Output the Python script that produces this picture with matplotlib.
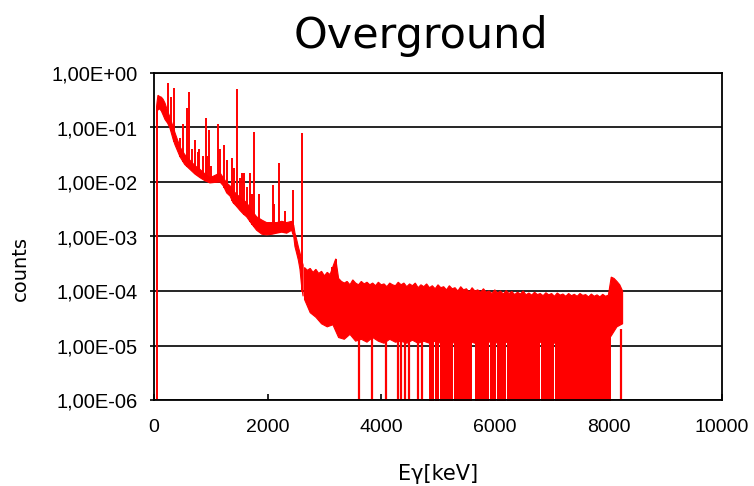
import numpy as np
import matplotlib
matplotlib.use("Agg")
import matplotlib.pyplot as plt
from matplotlib.ticker import FixedLocator, FuncFormatter, NullLocator

# ---------------- data ----------------
# low-energy continuum band (keV, counts)
low_E = [45, 55, 70, 100, 130, 160, 194, 240, 280, 340, 370, 458, 540, 634,
         720, 810, 900, 986, 1060, 1162, 1220, 1280, 1340, 1390, 1450, 1514,
         1570, 1630, 1720, 1807, 1900, 1983, 2080, 2160, 2250, 2336, 2424,
         2460, 2482, 2510, 2541, 2570, 2600, 2625]
low_upper = [0.24, 0.30, 0.39, 0.37, 0.36, 0.33, 0.28, 0.20, 0.155, 0.10,
             0.08, 0.044, 0.032, 0.025, 0.020, 0.017, 0.014, 0.012, 0.013,
             0.0147, 0.012, 0.0096, 0.0085, 0.0071, 0.0060, 0.0053, 0.0047,
             0.0042, 0.0030, 0.0023, 0.0020, 0.0018, 0.0018, 0.0018, 0.0019,
             0.0018, 0.0019, 0.0016, 0.00115, 0.0009, 0.00065, 0.0005,
             0.00037, 0.0003]
low_lower = [0.12, 0.20, 0.21, 0.22, 0.20, 0.17, 0.14, 0.12, 0.098, 0.059,
             0.048, 0.029, 0.021, 0.017, 0.014, 0.012, 0.0105, 0.0096,
             0.0098, 0.010, 0.0085, 0.0063, 0.0055, 0.0042, 0.0036, 0.0030,
             0.0026, 0.0023, 0.0017, 0.0013, 0.0011, 0.00107, 0.0011,
             0.00115, 0.0012, 0.00115, 0.0013, 0.0010, 0.00065, 0.0005,
             0.00037, 0.00025, 0.00012, 0.00008]

# gamma lines (keV, peak counts)
peak_E = [238, 295, 352, 463, 511, 583, 609, 665, 727, 768, 794, 860, 911,
          934, 969, 1001, 1120, 1155, 1238, 1281, 1377, 1408, 1460, 1509,
          1543, 1588, 1630, 1690, 1730, 1764, 1847, 2100, 2118, 2204, 2306,
          2448, 2614, 3130, 3200]
peak_h = [0.65, 0.36, 0.52, 0.064, 0.118, 0.23, 0.45, 0.04, 0.06, 0.035,
          0.04, 0.03, 0.15, 0.03, 0.09, 0.02, 0.116, 0.04, 0.048, 0.025,
          0.028, 0.018, 0.51, 0.012, 0.0147, 0.0147, 0.008, 0.0145, 0.006,
          0.083, 0.006, 0.0088, 0.004, 0.022, 0.0029, 0.0071, 0.079,
          2.8e-4, 3.8e-4]

# high-energy noisy band: upper edge every 50 keV from 2650 keV
hi_up_start, hi_up_step = 2650, 50
hi_upper = [2.7e-4, 2.4e-4, 2.6e-4, 2.2e-4, 2.5e-4, 2.1e-4, 2.3e-4, 1.9e-4,
            2.2e-4, 2.0e-4, 2.8e-4, 3.9e-4, 1.7e-4, 1.5e-4, 1.4e-4, 1.5e-4,
            1.3e-4, 1.6e-4, 1.4e-4, 1.3e-4, 1.5e-4, 1.35e-4, 1.45e-4, 1.3e-4,
            1.4e-4, 1.25e-4, 1.45e-4, 1.3e-4, 1.35e-4, 1.2e-4, 1.4e-4, 1.3e-4,
            1.25e-4, 1.45e-4, 1.3e-4, 1.4e-4, 1.2e-4, 1.35e-4, 1.25e-4, 1.4e-4,
            1.15e-4, 1.3e-4, 1.2e-4, 1.35e-4, 1.15e-4, 1.25e-4, 1.1e-4, 1.3e-4,
            1.15e-4, 1.2e-4, 1.05e-4, 1.25e-4, 1.1e-4, 1.15e-4, 1.0e-4, 1.2e-4,
            1.05e-4, 1.1e-4, 0.95e-4, 1.15e-4, 1.0e-4, 1.05e-4, 0.95e-4, 1.1e-4,
            0.95e-4, 1.0e-4, 0.9e-4, 1.05e-4, 0.92e-4, 1.0e-4, 0.88e-4, 1.02e-4,
            0.9e-4, 0.98e-4, 0.86e-4, 0.95e-4, 0.88e-4, 1.0e-4, 0.85e-4, 0.92e-4,
            0.84e-4, 0.95e-4, 0.86e-4, 0.9e-4, 0.82e-4, 0.93e-4, 0.85e-4, 0.9e-4,
            0.8e-4, 0.92e-4, 0.84e-4, 0.88e-4, 0.8e-4, 0.9e-4, 0.82e-4, 0.87e-4,
            0.8e-4, 0.9e-4, 0.83e-4, 0.86e-4, 0.78e-4, 0.88e-4, 0.8e-4, 0.85e-4,
            0.78e-4, 0.87e-4, 0.8e-4, 0.84e-4, 1.8e-4, 1.7e-4, 1.5e-4, 1.3e-4,
            1.0e-4]
# lower edge every 100 keV from 2650 keV
hi_lo_start, hi_lo_step = 2650, 100
hi_lower = [7e-5, 4e-5, 3.3e-5, 2.5e-5, 2.2e-5, 2.4e-5, 1.4e-5, 1.3e-5,
            1.6e-5, 1.2e-5, 1.3e-5, 1.15e-5, 1.4e-5, 1.2e-5, 1.1e-5, 1.3e-5,
            1.15e-5, 1.2e-5, 1.1e-5, 1.25e-5, 1.1e-5, 1.2e-5, 1.1e-5, 1.2e-5,
            1.1e-5, 1.25e-5, 1.1e-5, 1.2e-5, 1.1e-5, 1.2e-5, 1.1e-5, 1.2e-5,
            1.1e-5, 1.2e-5, 1.1e-5, 1.2e-5, 1.1e-5, 1.2e-5, 1.1e-5, 1.2e-5,
            1.1e-5, 1.2e-5, 1.1e-5, 1.2e-5, 1.1e-5, 1.2e-5, 1.1e-5, 1.2e-5,
            1.1e-5, 1.2e-5, 1.1e-5, 1.2e-5, 1.1e-5, 1.1e-5, 1.5e-5, 2.2e-5,
            2.5e-5]

# zero-count bins (drawn down to the axis floor)
drop_E = [3610, 3840, 4085, 4290, 4355, 4420, 4492, 4654, 4727, 8225]
drop_spans = [(4848, 4928), (4945, 5016), (5030, 5262), (5280, 5603),
              (5648, 5838), (5852, 5896), (5912, 6026), (6042, 6190),
              (6206, 6488), (6505, 6792), (6810, 7043), (7060, 8050)]
start_E, start_h = 45, 0.2

yticks = [1e-6, 1e-5, 1e-4, 1e-3, 1e-2, 1e-1, 1e0]
xticks = [0, 2000, 4000, 6000, 8000, 10000]

# ---------------- figure ----------------
fig = plt.figure(figsize=(7.54, 4.86), dpi=100)
ax = fig.add_axes([154 / 754, 86 / 486, 568 / 754, 327 / 486])
ax.set_yscale('log')
ax.set_xlim(0, 10000)
ax.set_ylim(1e-6, 1)

RED = '#ff0000'
floor = 1e-7

# low-energy band
ax.fill(low_E + low_E[::-1], low_upper + low_lower[::-1],
        facecolor=RED, edgecolor=RED, lw=0.8, zorder=3)

# high-energy band
hu_E = [hi_up_start + i * hi_up_step for i in range(len(hi_upper))]
hl_E = [hi_lo_start + i * hi_lo_step for i in range(len(hi_lower))]
ax.fill(hu_E + hl_E[::-1], hi_upper + hi_lower[::-1],
        facecolor=RED, edgecolor=RED, lw=0.8, zorder=3)

# peaks
allE = low_E + hl_E
allL = low_lower + hi_lower
base = np.exp(np.interp(peak_E, allE, np.log(allL)))
ax.vlines(peak_E, base, peak_h, color=RED, lw=1.4, zorder=3)

# zero-count bins
ax.vlines(drop_E, floor, 2e-5, color=RED, lw=1.6, zorder=3)
for a, b in drop_spans:
    ax.fill_between([a, b], floor, 2e-5, color=RED, lw=0, zorder=3)
ax.plot([0, start_E, start_E], [floor, floor, start_h], color=RED, lw=1.4,
        zorder=3)

# axes styling
ax.yaxis.set_major_locator(FixedLocator(yticks))
ax.yaxis.set_minor_locator(NullLocator())
ax.yaxis.set_major_formatter(
    FuncFormatter(lambda v, p: f"{v:.2E}".replace('.', ',')))
ax.xaxis.set_major_locator(FixedLocator(xticks))
ax.grid(axis='y', color='black', lw=1.2)
ax.set_axisbelow(True)
for s in ax.spines.values():
    s.set_linewidth(1.3)
    s.set_color('black')
    s.set_zorder(5)

ax.tick_params(axis='x', direction='in', length=4, width=1.2, pad=14,
               labelsize=14)
ax.tick_params(axis='y', direction='out', length=3, width=1.2, pad=9,
               labelsize=14.5)
for lab in ax.get_xticklabels() + ax.get_yticklabels():
    lab.set_fontfamily('Liberation Sans')

fig.text(421 / 754, 1 - 48 / 486, "Overground", ha='center', va='baseline',
         fontsize=31, family='DejaVu Sans')
fig.text(20 / 754, 1 - 268 / 486, "counts", rotation=90, ha='center',
         va='center', fontsize=14, family='DejaVu Sans')
fig.text(438 / 754, 1 - 474 / 486, "Eγ[keV]", ha='center', va='center',
         fontsize=15, family='DejaVu Sans')

fig.savefig("out.png", dpi=100, facecolor='white')
